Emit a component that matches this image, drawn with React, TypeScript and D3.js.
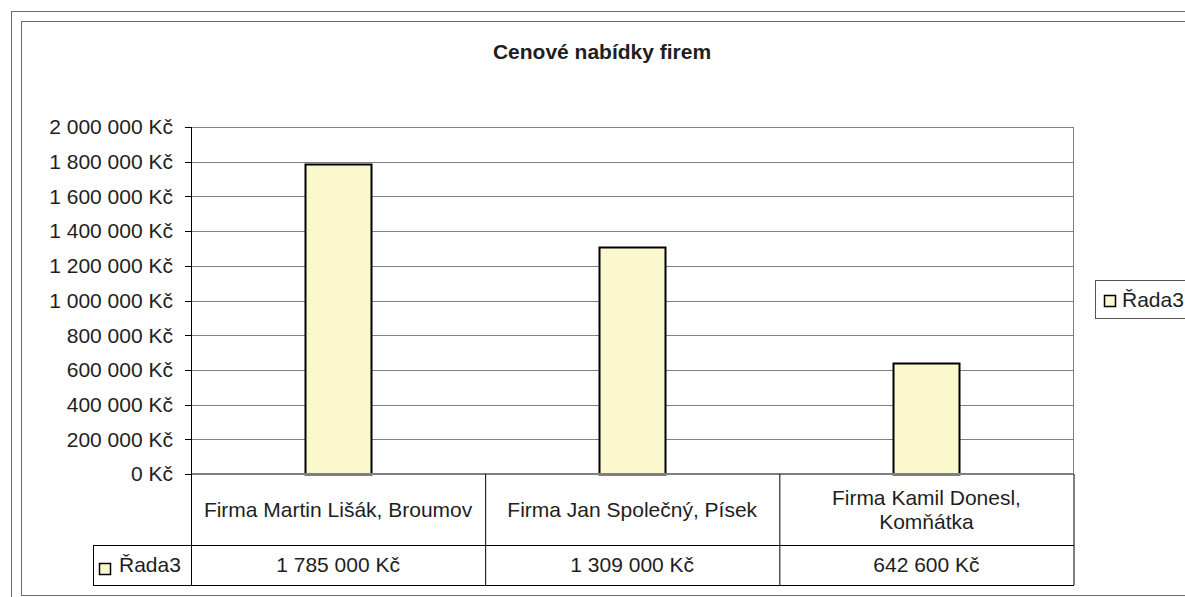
import React from 'react'
import * as d3 from 'd3'

const categories = ['Firma Martin Lišák, Broumov', 'Firma Jan Společný, Písek', 'Firma Kamil Donesl, Komňátka']
const categoryLines = [['Firma Martin Lišák, Broumov'], ['Firma Jan Společný, Písek'], ['Firma Kamil Donesl,', 'Komňátka']]
const values = [1785000, 1309000, 642600]
const seriesName = 'Řada3'
const title = 'Cenové nabídky firem'
const yMax = 2000000

const W = 1185
const H = 597
const font = '"Liberation Sans", Arial, sans-serif'
const txt = '#1e1e1e'
const barFill = '#FAF8CC'

const czk = d3.formatLocale({ decimal: ',', thousands: ' ', grouping: [3], currency: ['', ' Kč'] }).format('$,')

export default function App() {
  const left = 191
  const right = 1073.5
  const top = 127
  const bottom = 474
  const headerBottom = 545
  const tableBottom = 585
  const legendCellLeft = 93

  const x = d3.scaleBand().domain(categories).range([left, right]).padding(0)
  const y = d3.scaleLinear().domain([0, yMax]).range([bottom, top])
  const ticks = y.ticks(10)
  const barW = x.bandwidth() * 0.224

  return (
    <svg width={W} height={H} style={{ position: 'absolute', left: 0, top: 0 }} fontFamily={font}>
      <rect x={0} y={0} width={W} height={H} fill="#fff" />
      {/* frames */}
      <rect x={11.5} y={11.5} width={W + 20} height={H + 20} fill="none" stroke="#6a6a6a" />
      <rect x={21.5} y={21.5} width={W} height={574} fill="none" stroke="#6a6a6a" />

      <text x={602} y={59} textAnchor="middle" fontSize={21} fontWeight="bold" fill={txt}>{title}</text>

      {/* gridlines */}
      {ticks.map(t => (
        <line key={t} x1={left} x2={right} y1={Math.round(y(t)) + 0.5} y2={Math.round(y(t)) + 0.5} stroke="#808080" />
      ))}
      <line x1={right} x2={right} y1={top} y2={bottom} stroke="#808080" />

      {/* bars */}
      {categories.map((c, i) => (
        <rect key={c} x={Math.round((x(c) as number) + (x.bandwidth() - barW) / 2) + 0.5} y={Math.round(y(values[i])) + 0.5}
          width={Math.round(barW)} height={Math.round(y(0) - y(values[i]))}
          fill={barFill} stroke="#000" strokeWidth={2} />
      ))}

      {/* baseline */}
      <line x1={left} x2={right} y1={bottom} y2={bottom} stroke="#808080" strokeWidth={2} />

      {/* y axis */}
      <line x1={left + 0.5} x2={left + 0.5} y1={top} y2={tableBottom} stroke="#000" />
      {ticks.map(t => (
        <g key={t}>
          <line x1={185} x2={left} y1={Math.round(y(t)) + 0.5} y2={Math.round(y(t)) + 0.5} stroke="#000" />
          <text x={173} y={y(t)} dy="0.35em" textAnchor="end" fontSize={21} fill={txt}>{czk(t)}</text>
        </g>
      ))}

      {/* data table */}
      {categories.map((c, i) => (
        <line key={c} x1={(x(c) as number) + x.bandwidth() + 0.5} x2={(x(c) as number) + x.bandwidth() + 0.5}
          y1={bottom} y2={tableBottom} stroke="#000" />
      ))}
      <line x1={legendCellLeft} x2={right + 0.5} y1={headerBottom + 0.5} y2={headerBottom + 0.5} stroke="#000" />
      <line x1={legendCellLeft} x2={right + 0.5} y1={tableBottom + 0.5} y2={tableBottom + 0.5} stroke="#000" />
      <line x1={legendCellLeft + 0.5} x2={legendCellLeft + 0.5} y1={headerBottom} y2={tableBottom} stroke="#000" />

      {categories.map((c, i) => {
        const cx = (x(c) as number) + x.bandwidth() / 2
        const lines = categoryLines[i]
        const mid = (bottom + headerBottom) / 2
        const lh = 24
        return (
          <g key={c}>
            {lines.map((l, j) => (
              <text key={j} x={cx} y={mid + (j - (lines.length - 1) / 2) * lh} dy="0.35em" textAnchor="middle" fontSize={21} fill={txt}>{l}</text>
            ))}
            <text x={cx} y={(headerBottom + tableBottom) / 2} dy="0.35em" textAnchor="middle" fontSize={21} fill={txt}>{czk(values[i])}</text>
          </g>
        )
      })}
      <rect x={99.5} y={563.5} width={11} height={11} fill={barFill} stroke="#000" strokeWidth={1.5} />
      <text x={119} y={(headerBottom + tableBottom) / 2} dy="0.35em" fontSize={21} fill={txt}>{seriesName}</text>

      {/* legend */}
      <rect x={1095.5} y={280.5} width={120} height={38} fill="#fff" stroke="#555" />
      <rect x={1104.5} y={295.5} width={11} height={11} fill={barFill} stroke="#000" strokeWidth={1.5} />
      <text x={1122} y={300} dy="0.35em" fontSize={21} fill={txt}>{seriesName}</text>
    </svg>
  )
}
